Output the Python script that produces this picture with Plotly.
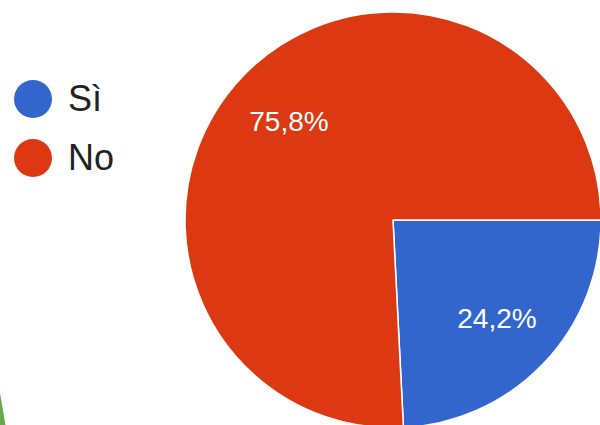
import plotly.graph_objects as go

categories = ["Sì", "No"]
values = [24.2, 75.8]
colors = ["#3366CC", "#DC3912"]

# viewport is 600x425; figure slightly larger so the pie can run past the edges (page overflow hidden)
VW, VH = 600, 425
W, H = 606, 432
FONT = "Liberation Sans, Arial, sans-serif"
pie_domain = dict(x=[185 / W, 601 / W], y=[1 - 428 / H, 1 - 12 / H])

fig = go.Figure()
# solid pie
fig.add_trace(go.Pie(
    labels=categories,
    values=values,
    sort=False,
    direction="clockwise",
    rotation=90,
    marker=dict(colors=colors, line=dict(color="white", width=1.5)),
    textinfo="none",
    hoverinfo="label+percent",
    showlegend=False,
    domain=pie_domain,
))
# transparent ring carrying the percentage labels further out
fig.add_trace(go.Pie(
    labels=categories,
    values=values,
    sort=False,
    direction="clockwise",
    rotation=90,
    hole=0.38,
    marker=dict(colors=["rgba(0,0,0,0)"] * len(values), line=dict(width=0)),
    texttemplate="%{percent:.1%}",
    textposition="inside",
    insidetextorientation="horizontal",
    textfont=dict(family=FONT, size=28, color="white"),
    hoverinfo="skip",
    showlegend=False,
    domain=pie_domain,
))

# custom legend with large circle symbols
legend_y = [99, 158]
shapes = []
annotations = []
for cat, col, yc in zip(categories, colors, legend_y):
    r = 19
    shapes.append(dict(type="circle", xref="paper", yref="paper",
                       x0=(33 - r) / W, x1=(33 + r) / W,
                       y0=1 - (yc + r) / H, y1=1 - (yc - r) / H,
                       fillcolor=col, line=dict(width=0)))
    annotations.append(dict(text=cat, xref="paper", yref="paper",
                            x=66 / W, y=1 - yc / H, xanchor="left", yanchor="middle",
                            showarrow=False,
                            font=dict(family=FONT, size=36, color="#222222")))

# small green sliver of a neighbouring element at the bottom-left edge
shapes.append(dict(type="path", xref="paper", yref="paper",
                   path=f"M 0 {1 - 393 / H} L {6 / W} {1 - 428 / H} L 0 {1 - 428 / H} Z",
                   fillcolor="#6aa84f", line=dict(width=0)))

fig.update_layout(
    width=W, height=H,
    margin=dict(l=0, r=0, t=0, b=0),
    paper_bgcolor="white",
    plot_bgcolor="white",
    separators=",.",
    shapes=shapes,
    annotations=annotations,
)

fig.write_html(
    "out.html",
    config={"displayModeBar": False},
    post_script="document.body.style.margin='0';document.body.style.overflow='hidden';"
                "document.documentElement.style.overflow='hidden';",
)
